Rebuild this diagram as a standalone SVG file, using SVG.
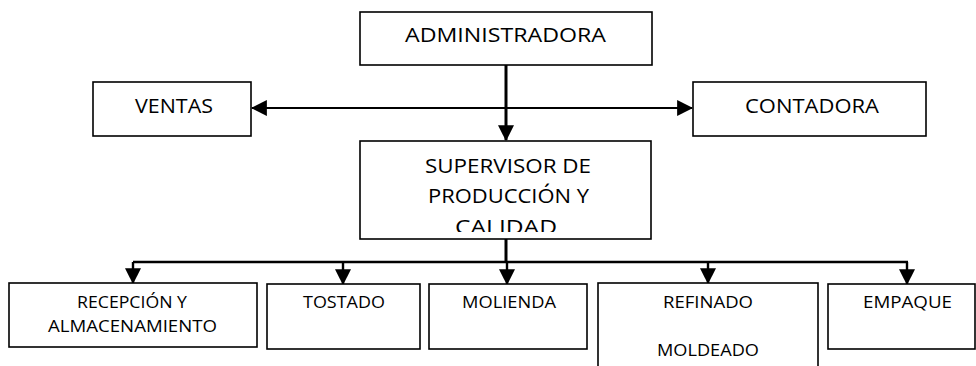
<svg xmlns="http://www.w3.org/2000/svg" width="976" height="366" viewBox="0 0 976 366">
  <style>
    .box { fill: #ffffff; stroke: #000000; stroke-width: 1.6; }
    .t { font-family: "Open Sans", "Liberation Sans", sans-serif; fill: #000000; text-anchor: middle; }
    .big { font-size: 20.5px; }
    .small { font-size: 17px; }
    .con { fill: none; stroke: #000000; stroke-width: 2.4; }
  </style>
  <defs>
    <marker id="ah" markerUnits="userSpaceOnUse" markerWidth="16" markerHeight="16" viewBox="0 0 14 14" refX="13" refY="7" orient="auto-start-reverse">
      <path d="M0,0 L14,7 L0,14 Z" fill="#000000"/>
    </marker>
    <clipPath id="supclip">
      <rect x="360" y="141" width="292" height="91"/>
    </clipPath>
  </defs>

  <g id="connectors">
    <line class="con" x1="506" y1="65" x2="506" y2="140" marker-end="url(#ah)" style="stroke-width:3"/>
    <line class="con" x1="252" y1="108" x2="692" y2="108" marker-start="url(#ah)" marker-end="url(#ah)" style="stroke-width:2"/>
    <line class="con" x1="506" y1="239" x2="506" y2="262" style="stroke-width:3"/>
    <line class="con" x1="133" y1="262" x2="908" y2="262"/>
    <line class="con" x1="133" y1="262" x2="133" y2="283" marker-end="url(#ah)"/>
    <line class="con" x1="343" y1="262" x2="343" y2="284" marker-end="url(#ah)"/>
    <line class="con" x1="507" y1="262" x2="507" y2="284" marker-end="url(#ah)"/>
    <line class="con" x1="708" y1="262" x2="708" y2="283" marker-end="url(#ah)"/>
    <line class="con" x1="907" y1="262" x2="907" y2="284" marker-end="url(#ah)"/>
  </g>

  <g id="administradora">
    <rect class="box" x="360" y="12" width="292" height="53"/>
    <text class="t big" x="505.5" y="42" textLength="201" lengthAdjust="spacingAndGlyphs">ADMINISTRADORA</text>
  </g>

  <g id="ventas">
    <rect class="box" x="93" y="82" width="158" height="54"/>
    <text class="t big" x="174" y="113" textLength="78" lengthAdjust="spacingAndGlyphs">VENTAS</text>
  </g>

  <g id="contadora">
    <rect class="box" x="693" y="82" width="233" height="54"/>
    <text class="t big" x="812" y="113" textLength="134" lengthAdjust="spacingAndGlyphs">CONTADORA</text>
  </g>

  <g id="supervisor">
    <rect class="box" x="360" y="141" width="291" height="98"/>
    <g clip-path="url(#supclip)">
      <text class="t big" x="508" y="173" textLength="166" lengthAdjust="spacingAndGlyphs">SUPERVISOR DE</text>
      <text class="t big" x="508.5" y="203" textLength="161" lengthAdjust="spacingAndGlyphs">PRODUCCIÓN Y</text>
      <text class="t big" x="506" y="234" textLength="102" lengthAdjust="spacingAndGlyphs">CALIDAD</text>
    </g>
  </g>

  <g id="recepcion">
    <rect class="box" x="9" y="283" width="248" height="64"/>
    <text class="t small" x="132" y="308" textLength="110" lengthAdjust="spacingAndGlyphs">RECEPCIÓN Y</text>
    <text class="t small" x="132.5" y="332" textLength="169" lengthAdjust="spacingAndGlyphs">ALMACENAMIENTO</text>
  </g>

  <g id="tostado">
    <rect class="box" x="267" y="284" width="153" height="65"/>
    <text class="t small" x="344" y="308" textLength="82" lengthAdjust="spacingAndGlyphs">TOSTADO</text>
  </g>

  <g id="molienda">
    <rect class="box" x="429" y="284" width="158" height="65"/>
    <text class="t small" x="509" y="308" textLength="94" lengthAdjust="spacingAndGlyphs">MOLIENDA</text>
  </g>

  <g id="refinado">
    <rect class="box" x="598" y="283" width="220" height="100"/>
    <text class="t small" x="708" y="308" textLength="90" lengthAdjust="spacingAndGlyphs">REFINADO</text>
    <text class="t small" x="708" y="356" textLength="102" lengthAdjust="spacingAndGlyphs">MOLDEADO</text>
  </g>

  <g id="empaque">
    <rect class="box" x="828" y="284" width="147" height="65"/>
    <text class="t small" x="907.5" y="308" textLength="89" lengthAdjust="spacingAndGlyphs">EMPAQUE</text>
  </g>
</svg>
